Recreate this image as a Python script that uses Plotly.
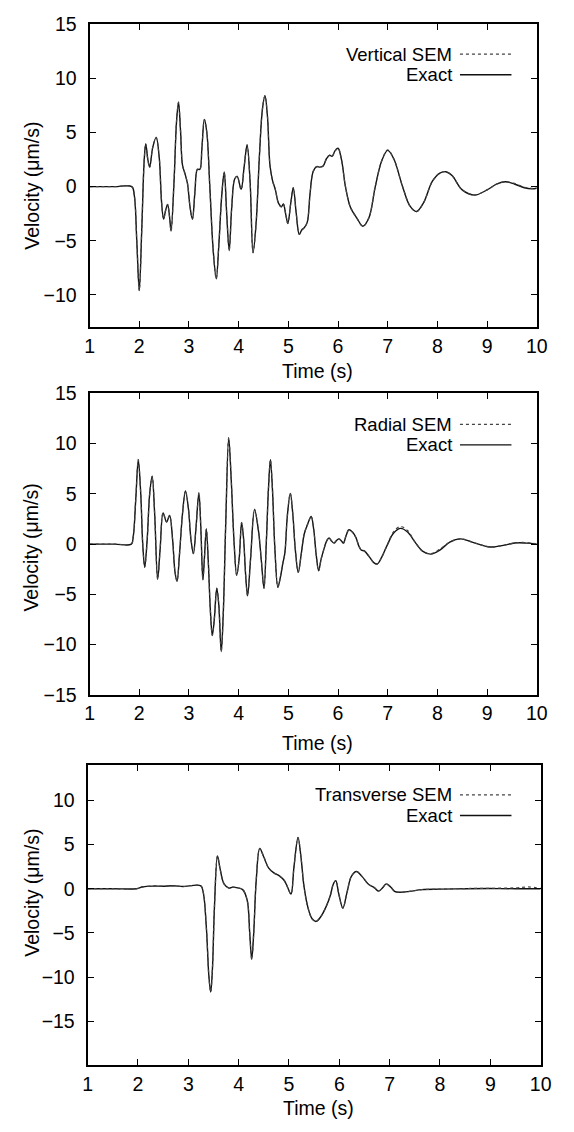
import plotly.graph_objects as go

# ---------------- data ----------------
# Panel 1: Vertical component
t_vert = [1.0, 1.5, 1.85, 1.9, 1.95, 2.0, 2.05, 2.1, 2.13, 2.17, 2.21, 2.27, 2.34, 2.4, 2.45, 2.49,
          2.53, 2.57, 2.61, 2.64, 2.7, 2.75, 2.79, 2.83, 2.87, 2.92, 2.97, 3.02, 3.07, 3.12, 3.17,
          3.22, 3.26, 3.31, 3.36, 3.42, 3.49, 3.55, 3.6, 3.66, 3.71, 3.76, 3.81, 3.86, 3.92, 3.97,
          4.05, 4.11, 4.17, 4.23, 4.29, 4.35, 4.42, 4.48, 4.53, 4.58, 4.63, 4.68, 4.74, 4.8, 4.86,
          4.9, 4.95, 4.99, 5.05, 5.1, 5.16, 5.22, 5.27, 5.32, 5.38, 5.44, 5.5, 5.57, 5.64, 5.7,
          5.77, 5.83, 5.88, 5.94, 6.0, 6.07, 6.15, 6.25, 6.38, 6.5, 6.62, 6.75, 6.88, 7.0, 7.12,
          7.3, 7.45, 7.58, 7.72, 7.9, 8.05, 8.17, 8.3, 8.5, 8.75, 9.0, 9.2, 9.37, 9.55, 9.75, 9.9, 10.0]
v_vert_exact = [0, 0, 0, -0.8, -5.0, -9.6, -4.0, 2.5, 3.95, 2.6, 1.8, 3.6, 4.55, 2.8, -1.5, -3.0,
                -2.2, -1.65, -2.8, -4.1, 0.5, 6.0, 7.8, 5.2, 2.0, 1.2, 0.3, -1.8, -3.0, -0.5, 1.6,
                1.6, 3.5, 6.2, 5.0, 0.0, -6.0, -8.5, -5.5, -0.8, 1.35, -2.5, -5.9, -2.0, 0.7, 0.95,
                -0.25, 1.8, 3.85, 0.5, -6.1, -3.5, 3.0, 7.2, 8.4, 6.5, 2.0, 0.6, -0.3, -1.5, -1.85,
                -1.6, -2.6, -3.4, -1.5, -0.1, -2.5, -4.4, -4.0, -3.8, -3.3, -0.5, 1.4, 1.85, 1.8, 1.9,
                2.6, 2.9, 2.8, 3.3, 3.55, 2.5, 0.0, -1.9, -2.9, -3.65, -2.9, 0.0, 2.4, 3.35, 2.6,
                0.0, -1.8, -2.3, -1.5, 0.5, 1.25, 1.38, 1.0, -0.3, -0.78, -0.3, 0.25, 0.45, 0.25, -0.1, -0.2, -0.15]
v_vert_sem = [0, 0, 0, -0.8, -5.0, -9.6, -4.0, 2.5, 3.95, 2.6, 1.8, 3.6, 4.55, 2.8, -1.5, -3.0,
              -2.2, -1.65, -2.8, -4.1, 0.5, 6.0, 7.8, 5.2, 2.0, 1.2, 0.3, -1.8, -3.0, -0.5, 1.6,
              1.6, 3.5, 6.2, 5.0, 0.0, -6.0, -8.5, -5.5, -0.8, 1.35, -2.5, -5.9, -2.0, 0.7, 0.95,
              -0.25, 1.8, 3.85, 0.5, -6.1, -3.5, 3.0, 7.2, 8.4, 6.5, 2.0, 0.6, -0.3, -1.5, -1.85,
              -1.6, -2.6, -3.4, -1.5, -0.1, -2.5, -4.4, -4.0, -3.8, -3.3, -0.5, 1.4, 1.85, 1.8, 1.9,
              2.6, 2.9, 2.8, 3.3, 3.6, 2.5, 0.0, -1.9, -2.9, -3.65, -2.9, 0.0, 2.4, 3.4, 2.6,
              0.0, -1.8, -2.3, -1.5, 0.5, 1.25, 1.38, 1.0, -0.3, -0.75, -0.3, 0.25, 0.45, 0.3, -0.05, -0.15, -0.1]

# Panel 2: Radial component
t_rad = [1.0, 1.5, 1.84, 1.88, 1.93, 1.98, 2.03, 2.07, 2.11, 2.16, 2.21, 2.26, 2.31, 2.37, 2.42, 2.48,
         2.55, 2.61, 2.67, 2.72, 2.76, 2.81, 2.87, 2.93, 2.99, 3.04, 3.09, 3.14, 3.2, 3.24, 3.28,
         3.31, 3.35, 3.39, 3.43, 3.47, 3.51, 3.56, 3.6, 3.65, 3.69, 3.74, 3.8, 3.85, 3.91, 3.96,
         4.01, 4.06, 4.1, 4.14, 4.18, 4.24, 4.32, 4.4, 4.46, 4.51, 4.56, 4.6, 4.64, 4.68, 4.73,
         4.79, 4.84, 4.89, 4.93, 4.98, 5.04, 5.09, 5.14, 5.2, 5.26, 5.32, 5.39, 5.46, 5.51, 5.56,
         5.61, 5.66, 5.72, 5.77, 5.82, 5.87, 5.92, 5.97, 6.02, 6.07, 6.11, 6.16, 6.22, 6.29, 6.36,
         6.42, 6.47, 6.53, 6.62, 6.72, 6.79, 6.88, 7.0, 7.12, 7.26, 7.4, 7.55, 7.7, 7.87, 8.05,
         8.25, 8.47, 8.7, 9.06, 9.3, 9.59, 9.8, 10.0]
v_rad_exact = [0, 0, 0, 0.8, 4.5, 8.4, 5.0, 0.0, -2.3, 0.5, 5.0, 6.75, 3.0, -3.5, -0.5, 3.1,
               2.2, 2.85, 0.5, -2.8, -3.7, -1.0, 3.0, 5.3, 3.5, 0.5, -0.95, 1.5, 5.1, 1.5, -3.55,
               -1.5, 1.5, -1.8, -6.5, -9.1, -7.5, -4.4, -6.0, -10.7, -7.0, 2.0, 10.6, 6.5, 0.0, -3.1,
               -1.5, 2.15, 0.5, -3.0, -5.15, -1.5, 3.45, 1.3, -1.8, -4.4, 0.5, 5.5, 8.4, 5.5, -0.5,
               -4.3, -3.3, -1.9, -0.9, 2.8, 5.05, 3.0, -0.5, -2.8, -1.0, 1.0, 2.0, 2.75, 1.5, -1.0,
               -2.65, -1.5, -0.45, 0.3, 0.62, 0.3, 0.1, 0.35, 0.52, 0.3, 0.1, 0.8, 1.43, 1.2, 0.65,
               -0.2, -0.6, -0.68, -1.2, -1.85, -1.98, -1.3, 0.0, 1.1, 1.56, 1.2, 0.2, -0.7, -1.0, -0.6,
               0.2, 0.52, 0.2, -0.29, -0.15, 0.13, 0.1, 0.0]
v_rad_sem = [0, 0, 0, 0.8, 4.5, 8.4, 5.0, 0.0, -2.3, 0.5, 5.0, 6.75, 3.0, -3.5, -0.5, 3.1,
             2.2, 2.85, 0.5, -2.8, -3.7, -1.0, 3.0, 5.3, 3.5, 0.5, -0.95, 1.5, 5.1, 1.5, -3.55,
             -1.5, 1.5, -1.8, -6.5, -9.1, -7.5, -4.4, -6.0, -10.7, -7.0, 2.0, 10.6, 6.5, 0.0, -3.1,
             -1.5, 2.15, 0.5, -3.0, -5.15, -1.5, 3.45, 1.3, -1.8, -4.4, 0.5, 5.5, 8.4, 5.5, -0.5,
             -4.3, -3.3, -1.9, -0.9, 2.8, 5.05, 3.0, -0.5, -2.8, -1.0, 1.0, 2.0, 2.75, 1.5, -1.0,
             -2.65, -1.5, -0.45, 0.3, 0.62, 0.3, 0.1, 0.35, 0.52, 0.3, 0.1, 0.8, 1.43, 1.2, 0.65,
             -0.2, -0.6, -0.68, -1.2, -1.85, -1.98, -1.3, 0.0, 1.25, 1.75, 1.35, 0.2, -0.7, -0.95, -0.5,
             0.2, 0.52, 0.2, -0.29, -0.15, 0.13, 0.15, 0.0]

# Panel 3: Transverse component
t_tra = [1.0, 1.5, 1.97, 2.1, 2.3, 2.5, 2.7, 2.9, 3.05, 3.25, 3.3, 3.36, 3.41, 3.445, 3.48, 3.52,
         3.58, 3.63, 3.71, 3.81, 3.88, 3.98, 4.08, 4.17, 4.22, 4.26, 4.3, 4.35, 4.42, 4.5, 4.59,
         4.7, 4.81, 4.91, 4.97, 5.04, 5.1, 5.18, 5.24, 5.3, 5.38, 5.46, 5.54, 5.64, 5.74, 5.82,
         5.88, 5.93, 5.99, 6.07, 6.15, 6.24, 6.34, 6.45, 6.58, 6.7, 6.78, 6.86, 6.93, 7.02, 7.1,
         7.18, 7.4, 7.64, 8.0, 8.5, 9.0, 9.5, 9.75, 10.0]
v_tra_exact = [0, 0, 0, 0.22, 0.3, 0.28, 0.33, 0.25, 0.35, 0.32, -0.5, -4.5, -10.0, -11.7, -9.0, -2.0,
               3.7, 2.3, 0.55, 0.07, 0.18, 0.1, -0.1, -1.3, -5.0, -8.0, -5.0, 1.0, 4.55, 3.6, 2.4,
               1.8, 1.45, 0.9, 0.2, -0.6, 2.5, 5.8, 3.5, 0.2, -2.2, -3.4, -3.7, -3.1, -2.0, -0.8,
               0.5, 0.92, -0.6, -2.2, -0.5, 1.4, 1.95, 1.4, 0.5, 0.1, -0.27, 0.1, 0.55, 0.2, -0.3,
               -0.4, -0.3, -0.1, -0.05, 0.0, 0.02, 0.0, 0.0, 0.0]
v_tra_sem = [0, 0, 0, 0.22, 0.3, 0.28, 0.33, 0.25, 0.35, 0.32, -0.5, -4.5, -10.0, -11.7, -9.0, -2.0,
             3.7, 2.3, 0.55, 0.07, 0.18, 0.1, -0.1, -1.3, -5.0, -8.0, -5.0, 1.0, 4.55, 3.6, 2.4,
             1.8, 1.45, 0.9, 0.2, -0.6, 2.5, 5.8, 3.5, 0.2, -2.2, -3.4, -3.7, -3.1, -2.0, -0.8,
             0.5, 0.92, -0.6, -2.2, -0.5, 1.4, 1.95, 1.4, 0.5, 0.1, -0.27, 0.1, 0.55, 0.2, -0.3,
             -0.4, -0.3, -0.1, -0.05, 0.02, 0.05, 0.1, 0.2, 0.05]

panel_labels = ["Vertical SEM", "Radial SEM", "Transverse SEM"]
exact_label = "Exact"
x_title = "Time (s)"
y_title = "Velocity (\u03bcm/s)"
x_ticks = [1, 2, 3, 4, 5, 6, 7, 8, 9, 10]
y_ranges = [[-13, 15], [-15, 15], [-20, 14]]
y_ticks = [[-10, -5, 0, 5, 10, 15], [-15, -10, -5, 0, 5, 10, 15], [-15, -10, -5, 0, 5, 10]]

# ---------------- layout geometry (pixels) ----------------
W, H = 574, 1132
FONT = "Liberation Sans, Arial, Helvetica, sans-serif"
TICK_SIZE = 19.5
TEXT_SIZE = 18.5
panels = [
    dict(x0=87, x1=547, top=13.5, bottom=322.7, leg1=44, leg2=65, xt=367, yt=178),
    dict(x0=87, x1=547, top=390, bottom=697.3, leg1=421.5, leg2=442.5, xt=746, yt=547),
    dict(x0=85, x1=551, top=769, bottom=1075.3, leg1=799.5, leg2=820.5, xt=1119, yt=899),
]

def px(x):
    return x / W

def py(y):
    return 1 - y / H

series = [(t_vert, v_vert_exact, v_vert_sem), (t_rad, v_rad_exact, v_rad_sem), (t_tra, v_tra_exact, v_tra_sem)]

fig = go.Figure()
annotations = []
shapes = []
for i, (p, (t, ve, vs)) in enumerate(zip(panels, series)):
    n = "" if i == 0 else str(i + 1)
    xa, ya = "x" + n, "y" + n
    fig.add_trace(go.Scatter(x=t, y=ve, mode="lines", xaxis=xa, yaxis=ya, name=exact_label,
                             line=dict(color="#111111", width=1.4, shape="spline", smoothing=1.0),
                             showlegend=False))
    fig.add_trace(go.Scatter(x=t, y=vs, mode="lines", xaxis=xa, yaxis=ya, name=panel_labels[i],
                             line=dict(color="#444444", width=1.2, dash="3px,3px", shape="spline", smoothing=1.0),
                             showlegend=False))
    axcommon = dict(showline=True, linewidth=2, linecolor="black", mirror="allticks",
                    ticks="inside", ticklen=6, tickwidth=1, tickcolor="black",
                    showgrid=False, zeroline=False,
                    tickfont=dict(family=FONT, size=TICK_SIZE, color="black"))
    fig.layout["xaxis" + n] = dict(domain=[px(p["x0"]), px(p["x1"])], range=[1, 10],
                                   tickvals=x_ticks, anchor=ya, ticklabelstandoff=0, **axcommon)
    fig.layout["yaxis" + n] = dict(domain=[py(p["bottom"]), py(p["top"])], range=y_ranges[i],
                                   tickvals=y_ticks[i], anchor=xa, ticklabelstandoff=7, **axcommon)
    # axis titles
    annotations.append(dict(text=x_title, x=px((p["x0"] + p["x1"]) / 2 + 4), y=py(p["xt"]),
                            xref="paper", yref="paper", showarrow=False, xanchor="center", yanchor="middle",
                            font=dict(family=FONT, size=TICK_SIZE, color="black")))
    annotations.append(dict(text=y_title, x=px(27), y=py(p["yt"]), textangle=-90,
                            xref="paper", yref="paper", showarrow=False, xanchor="center", yanchor="middle",
                            font=dict(family=FONT, size=TEXT_SIZE + 1, color="black")))
    # key
    annotations.append(dict(text=panel_labels[i], x=px(462), y=py(p["leg1"]), xref="paper", yref="paper",
                            showarrow=False, xanchor="right", yanchor="middle",
                            font=dict(family=FONT, size=TEXT_SIZE, color="black")))
    annotations.append(dict(text=exact_label, x=px(462), y=py(p["leg2"]), xref="paper", yref="paper",
                            showarrow=False, xanchor="right", yanchor="middle",
                            font=dict(family=FONT, size=TEXT_SIZE, color="black")))
    shapes.append(dict(type="line", xref="paper", yref="paper", x0=px(468), x1=px(521),
                       y0=py(p["leg1"]), y1=py(p["leg1"]),
                       line=dict(color="#444444", width=1.2, dash="3px,3px")))
    shapes.append(dict(type="line", xref="paper", yref="paper", x0=px(468), x1=px(521),
                       y0=py(p["leg2"]), y1=py(p["leg2"]),
                       line=dict(color="#111111", width=1.4)))

fig.update_layout(width=W, height=H, margin=dict(l=0, r=0, t=0, b=0),
                  paper_bgcolor="white", plot_bgcolor="white", showlegend=False,
                  annotations=annotations, shapes=shapes,
                  font=dict(family=FONT, size=TICK_SIZE, color="black"))

fig.write_html("out.html", config={"displayModeBar": False},
               post_script="document.body.style.margin='0';")
